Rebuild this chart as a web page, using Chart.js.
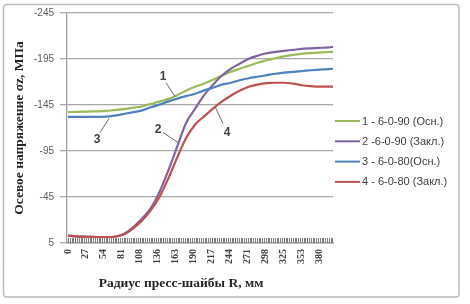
<!DOCTYPE html>
<html><head><meta charset="utf-8">
<script src="https://cdn.jsdelivr.net/npm/chart.js@4.4.1/dist/chart.umd.min.js"></script>
<style>html,body{margin:0;padding:0;background:#fff;}#wrap{width:470px;height:304px;position:relative;}</style>
</head><body><div id="wrap"><canvas id="c" width="470" height="304"></canvas></div>
<script>
// Radius of the press washer, mm
const radius = [0, 16, 30, 43, 57, 70, 84, 97, 111, 124, 138, 151, 165, 178, 192, 205, 219, 232, 246, 259, 273, 286, 300, 313, 326, 340, 353, 367, 380, 394, 400];
// Axial stress, MPa
const s1 = [-137.3, -137.6, -137.9, -138.1, -138.6, -139.5, -140.6, -142, -143.4, -146, -148.7, -151.4, -155.7, -160.6, -164.9, -168.2, -172.5, -176.8, -181.1, -184.4, -187.6, -190.9, -193.6, -195.8, -197.9, -199.5, -200.6, -201.4, -202, -202.6, -202.8];
const s2 = [-3.1, -2, -1.8, -1.5, -1.5, -1.8, -4.7, -11.2, -21, -31.8, -50.2, -72.9, -100, -124.9, -141.1, -155.2, -167.1, -176.8, -184.4, -189.8, -195.2, -198.5, -201.2, -202.8, -203.9, -205, -206, -206.6, -207.1, -207.7, -208.2];
const s3 = [-132.1, -132.1, -132.1, -132.1, -132.4, -133.5, -135.2, -137, -138.9, -142.2, -145.4, -148.7, -151.9, -154.6, -157.3, -160.6, -163.8, -167.1, -169.2, -171.9, -174.1, -175.7, -177.4, -179, -180.1, -181.1, -181.9, -182.8, -183.5, -184.1, -184.4];
const s4 = [-3.1, -2, -1.8, -1.5, -1.5, -1.8, -4.2, -10.2, -18.8, -29.6, -44.8, -64.3, -88.1, -108.6, -123.8, -132.4, -141.1, -148.7, -155.2, -160.6, -164.9, -167.1, -168.7, -169.2, -169.2, -168.2, -166.5, -165.5, -164.9, -164.9, -164.9];
const seriesNames = ['1 - 6-0-90 (Осн.)', '2 -6-0-90 (Закл.)', '3 - 6-0-80(Осн.)', '4 - 6-0-80 (Закл.)'];
const seriesColors = ['#9BBB59', '#8064A2', '#4F81BD', '#C0504D'];
const xTickValues = [0, 27.14, 54.29, 81.43, 108.57, 135.71, 162.86, 190, 217.14, 244.29, 271.43, 298.57, 325.71, 352.86, 380];
const xTickLabels = ['0', '27', '54', '81', '108', '136', '163', '190', '217', '244', '271', '298', '325', '353', '380'];
const yTickValues = [5, -45, -95, -145, -195, -245];
const minorTickStep = 2.714;
// curve callouts: label, text position, leader start, leader end (data units)
const calloutLabels = ['1', '2', '3', '4'];
const calloutText = [[143.5, -175.7], [135.9, -118.4], [43.9, -107.6], [240, -115.1]];
const calloutFrom = [[148, -169.2], [143.5, -115.1], [48.4, -115.1], [234, -124.9]];
const calloutTo = [[161.6, -154.1], [166.1, -104.3], [62, -130.3], [221.9, -143.3]];

const seriesValues = [s1, s2, s3, s4];
const datasets = seriesValues.map((vals, i) => ({
  label: seriesNames[i],
  data: radius.map((r, k) => ({x: r, y: vals[k]})),
  borderColor: seriesColors[i],
  backgroundColor: seriesColors[i],
  borderWidth: 2.2,
  pointRadius: 0,
  cubicInterpolationMode: 'monotone',
  fill: false,
  order: 4 - i
}));

const deco = {
  id: 'deco',
  beforeDraw(chart) {
    const ctx = chart.ctx;
    ctx.save();
    ctx.fillStyle = '#fff';
    ctx.fillRect(0, 0, chart.width, chart.height);
    ctx.strokeStyle = '#bdbdbd';
    ctx.lineWidth = 1.5;
    ctx.beginPath();
    ctx.roundRect(3.5, 4.5, 455.5, 292.5, 3);
    ctx.stroke();
    ctx.restore();
  },
  afterDatasetsDraw(chart) {
    const ctx = chart.ctx;
    const xs = chart.scales.x, ys = chart.scales.y;
    const ca = chart.chartArea;
    ctx.save();
    // minor tick marks along the category axis (inside)
    ctx.strokeStyle = '#7f7f7f';
    ctx.lineWidth = 1;
    for (let v = 0; v <= xs.max + 0.01; v += minorTickStep) {
      const px = Math.round(xs.getPixelForValue(v)) + 0.5;
      ctx.beginPath();
      ctx.moveTo(px, ca.bottom - 5);
      ctx.lineTo(px, ca.bottom);
      ctx.stroke();
    }
    // callouts
    ctx.strokeStyle = '#6b6b6b';
    ctx.lineWidth = 1;
    ctx.fillStyle = '#404040';
    ctx.font = 'bold 12px "Liberation Sans", Arial, sans-serif';
    ctx.textAlign = 'center';
    ctx.textBaseline = 'middle';
    calloutLabels.forEach((lab, i) => {
      ctx.beginPath();
      ctx.moveTo(xs.getPixelForValue(calloutFrom[i][0]), ys.getPixelForValue(calloutFrom[i][1]));
      ctx.lineTo(xs.getPixelForValue(calloutTo[i][0]), ys.getPixelForValue(calloutTo[i][1]));
      ctx.stroke();
      ctx.fillText(lab, xs.getPixelForValue(calloutText[i][0]), ys.getPixelForValue(calloutText[i][1]));
    });
    ctx.restore();
  },
  afterDraw(chart) {
    const ctx = chart.ctx;
    const ca = chart.chartArea;
    ctx.save();
    // legend
    ctx.font = '11px "Liberation Sans", Arial, sans-serif';
    ctx.textAlign = 'left';
    ctx.textBaseline = 'middle';
    chart.data.datasets.forEach((ds, i) => {
      const y = 121 + 20.3 * i;
      ctx.strokeStyle = ds.borderColor;
      ctx.lineWidth = 2;
      ctx.beginPath();
      ctx.moveTo(ca.right + 2, y);
      ctx.lineTo(ca.right + 27, y);
      ctx.stroke();
      ctx.fillStyle = '#404040';
      ctx.fillText(ds.label, ca.right + 29, y + 0.5);
    });
    // x axis title
    ctx.font = 'bold 13.5px "Liberation Serif", "Times New Roman", serif';
    ctx.fillStyle = '#262626';
    ctx.textAlign = 'center';
    ctx.fillText('Радиус пресс-шайбы R, мм', 181, 284);
    ctx.restore();
  }
};

new Chart(document.getElementById('c'), {
  type: 'line',
  data: {datasets},
  plugins: [deco],
  options: {
    responsive: false,
    animation: false,
    devicePixelRatio: 1,
    layout: {padding: {left: 0, top: 13, right: 137, bottom: 0}},
    plugins: {legend: {display: false}, tooltip: {enabled: false}},
    scales: {
      x: {
        type: 'linear',
        min: -1.4,
        max: 400,
        afterBuildTicks: (axis) => { axis.ticks = xTickValues.map(v => ({value: v})); },
        afterFit: (axis) => { axis.height = 61; },
        ticks: {
          autoSkip: false,
          maxRotation: 90,
          minRotation: 90,
          padding: 6,
          color: '#404040',
          font: {family: '"Liberation Serif", "Times New Roman", serif', size: 10, weight: 'bold'},
          callback: (v, i) => xTickLabels[i]
        },
        grid: {display: false, drawTicks: false},
        border: {display: true, color: '#a0a0a0', width: 1.5}
      },
      y: {
        type: 'linear',
        reverse: true,
        min: -245,
        max: 5,
        afterBuildTicks: (axis) => { axis.ticks = yTickValues.map(v => ({value: v})); },
        afterFit: (axis) => { axis.width = 67; },
        ticks: {
          padding: 6,
          color: '#595959',
          font: {family: '"Liberation Sans", Arial, sans-serif', size: 10},
          callback: (v) => String(v)
        },
        grid: {color: '#a8a8a8', lineWidth: 1.3, tickLength: 7},
        border: {display: true, color: '#a0a0a0', width: 1.3},
        title: {
          display: true,
          text: 'Осевое напряжение σz, МПа',
          color: '#262626',
          font: {family: '"Liberation Serif", "Times New Roman", serif', size: 13.5, weight: 'bold'},
          padding: {top: 11, bottom: 0}
        }
      }
    }
  }
});
</script></body></html>
